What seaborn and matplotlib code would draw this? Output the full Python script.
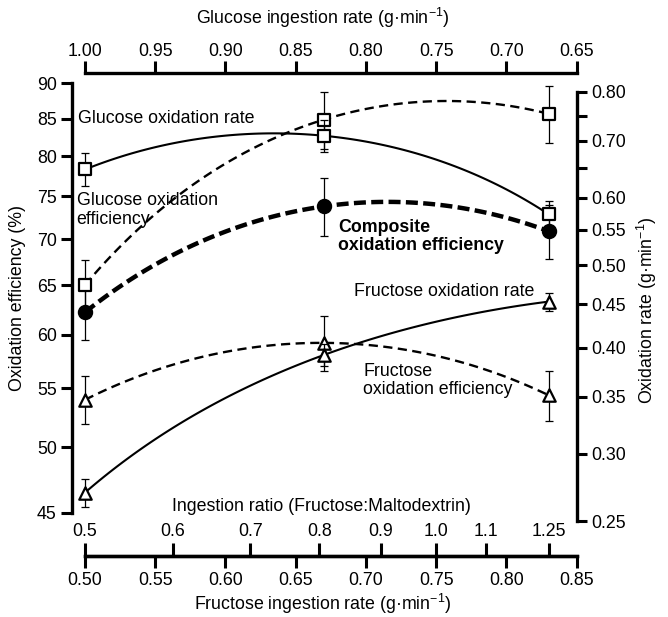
import numpy as np
import matplotlib
matplotlib.use("Agg")
import matplotlib.pyplot as plt
import seaborn as sns
from matplotlib.ticker import NullLocator

# ---------------- data ----------------
fructose_rate = [0.50, 0.67, 0.83]            # fructose ingestion rate, g/min
total_cho = 1.5                                # total carbohydrate ingestion, g/min

glucose_ox_eff = [65.0, 84.9, 85.7]            # %
glucose_ox_eff_sd = [2.7, 3.9, 3.9]
fructose_ox_eff = [54.0, 59.2, 54.4]           # %
fructose_ox_eff_sd = [2.1, 2.6, 2.2]
composite_ox_eff = [62.2, 73.8, 70.9]          # %
composite_ox_eff_sd = [2.7, 3.4, 3.1]

glucose_ox_rate = [0.648, 0.710, 0.574]        # g/min
glucose_ox_rate_sd = [0.029, 0.030, 0.021]
fructose_ox_rate = [0.270, 0.392, 0.453]       # g/min
fructose_ox_rate_sd = [0.010, 0.012, 0.011]

eff_ticks = [45, 50, 55, 60, 65, 70, 75, 80, 85, 90]
rate_ticks = [0.25, 0.30, 0.35, 0.40, 0.45, 0.50, 0.55, 0.60, 0.65, 0.70, 0.75, 0.80]
rate_tick_labels = ["0.25", "0.30", "0.35", "0.40", "0.45", "0.50", "0.55", "0.60", "", "0.70", "", "0.80"]
fructose_ticks = [0.50, 0.55, 0.60, 0.65, 0.70, 0.75, 0.80, 0.85]
glucose_ticks = [1.00, 0.95, 0.90, 0.85, 0.80, 0.75, 0.70, 0.65]
ratio_ticks = [0.5, 0.6, 0.7, 0.8, 0.9, 1.0, 1.1, 1.25]
ratio_tick_labels = ["0.5", "0.6", "0.7", "0.8", "0.9", "1.0", "1.1", "1.25"]

# ---------------- style ----------------
sns.set_style("ticks")
plt.rcParams["font.family"] = ["Liberation Sans", "DejaVu Sans"]
plt.rcParams["mathtext.default"] = "regular"
plt.rcParams["font.size"] = 12.8
plt.rcParams["xtick.labelsize"] = 12.8
plt.rcParams["ytick.labelsize"] = 12.8
for k in ["axes.edgecolor", "xtick.color", "ytick.color", "text.color", "axes.labelcolor"]:
    plt.rcParams[k] = "black"

W, H = 668, 617
PT = 72 / 100.0  # points per pixel


def box(x0, y0, x1, y1):
    return [x0 / W, 1 - y1 / H, (x1 - x0) / W, (y1 - y0) / H]


fig = plt.figure(figsize=(W / 100, H / 100), dpi=100)
fig.patch.set_facecolor("white")

AX_L, AX_R = 85, 576.7
EFF_TOP, EFF_BOT = 83.5, 512.7
RATE_TOP, RATE_BOT = 91.7, 521.0
ax = fig.add_axes(box(AX_L, EFF_TOP, AX_R, EFF_BOT))
ax_r = fig.add_axes(box(AX_L, RATE_TOP, AX_R, RATE_BOT), sharex=ax)
ax_r.set_facecolor("none")

SPINE_W = 2.4
TICK_W = 2.2

# ---------------- efficiency (left axis) ----------------
ax.set_yscale("log")


def draw_series(axis, y, yerr, marker, face, size, ls, lw):
    axis.errorbar(fructose_rate, y, yerr=yerr, fmt="none", ecolor="black",
                  elinewidth=0.9, capsize=2.6, capthick=0.9, zorder=1, clip_on=False)
    sns.regplot(x=np.array(fructose_rate), y=np.array(y), order=2, ci=None,
                scatter=False, truncate=True, ax=axis,
                line_kws=dict(color="black", lw=lw, linestyle=ls, zorder=2,
                              dash_capstyle="butt", clip_on=False))
    sns.scatterplot(x=fructose_rate, y=y, marker=marker, s=size, color=face,
                    edgecolor="black", linewidth=1.6, ax=axis, zorder=4, clip_on=False)


draw_series(ax, glucose_ox_eff, glucose_ox_eff_sd, "s", "white", 64, (0, (3.9, 2.3)), 1.7)
draw_series(ax, fructose_ox_eff, fructose_ox_eff_sd, "^", "white", 80, (0, (3.9, 2.3)), 1.7)
draw_series(ax, composite_ox_eff, composite_ox_eff_sd, "o", "black", 90, (0, (2.7, 1.2)), 3.2)

# ---------------- rates (right axis) ----------------
ax_r.set_yscale("log")
draw_series(ax_r, glucose_ox_rate, glucose_ox_rate_sd, "s", "white", 64, "-", 1.5)
draw_series(ax_r, fructose_ox_rate, fructose_ox_rate_sd, "^", "white", 80, "-", 1.5)

# ---------------- axes formatting ----------------
ax.set_xlim(0.50, 0.85)
ax.set_ylim(45, 90)
ax.set_yticks(eff_ticks, [str(t) for t in eff_ticks])
ax.yaxis.set_minor_locator(NullLocator())
ax.set_xticks(fructose_ticks, [f"{t:.2f}" for t in fructose_ticks])
for s in ["top", "right"]:
    ax.spines[s].set_visible(False)
ax.spines["left"].set_position(("outward", 13.3 * PT))
ax.spines["bottom"].set_position(("outward", (556 - EFF_BOT) * PT))
for s in ["left", "bottom"]:
    ax.spines[s].set_linewidth(SPINE_W)
ax.tick_params(axis="y", length=7.9, width=TICK_W, pad=2.9)
ax.tick_params(axis="x", length=8.9, width=TICK_W, pad=2.4)

ax.set_ylabel("Oxidation efficiency (%)")
ax.yaxis.set_label_coords((18 - AX_L) / (AX_R - AX_L), 0.5)
ax.yaxis.label.set_va("center")
ax.set_xlabel("Fructose ingestion rate (g·min$^{-1}$)")
ax.xaxis.set_label_coords((323 - AX_L) / (AX_R - AX_L), (EFF_BOT - 603.5) / (EFF_BOT - EFF_TOP))
ax.xaxis.label.set_va("center")

ax_r.set_ylim(0.25, 0.80)
ax_r.yaxis.tick_right()
ax_r.set_yticks(rate_ticks, rate_tick_labels)
ax_r.yaxis.set_minor_locator(NullLocator())
for s in ["top", "left", "bottom"]:
    ax_r.spines[s].set_visible(False)
ax_r.spines["right"].set_linewidth(SPINE_W)
ax_r.xaxis.set_visible(False)
ax_r.tick_params(axis="y", length=7.2, width=TICK_W, pad=3.6)
ax_r.yaxis.set_label_position("right")
ax_r.set_ylabel("Oxidation rate (g·min$^{-1}$)")
ax_r.yaxis.set_label_coords((647 - AX_L) / (AX_R - AX_L), (RATE_BOT - 310) / (RATE_BOT - RATE_TOP))
ax_r.yaxis.label.set_va("center")

# top axis: glucose ingestion rate
top = ax.secondary_xaxis(1 + (EFF_TOP - 73.3) / (EFF_BOT - EFF_TOP),
                         functions=(lambda f: total_cho - f, lambda g: total_cho - g))
top.set_xticks(glucose_ticks, [f"{t:.2f}" for t in glucose_ticks])
top.tick_params(length=8.9, width=TICK_W, pad=0.8)
top.spines["top"].set_linewidth(SPINE_W)
top.set_xlabel("Glucose ingestion rate (g·min$^{-1}$)")
top.xaxis.set_label_coords((323 - AX_L) / (AX_R - AX_L), (EFF_BOT - 18.3) / (EFF_BOT - EFF_TOP),
                           transform=ax.transAxes)
top.xaxis.label.set_va("center")

# inner bottom axis: ingestion ratio
ratio_ax = ax.secondary_xaxis(-(556 - EFF_BOT) / (EFF_BOT - EFF_TOP))
ratio_ax.set_alignment("top")
ratio_pos = [total_cho * r / (1 + r) for r in ratio_ticks[:-1]] + [fructose_rate[-1]]
ratio_ax.set_xticks(ratio_pos, ratio_tick_labels)
ratio_ax.tick_params(length=9.6, width=TICK_W, pad=1.7)
ratio_ax.spines["top"].set_linewidth(SPINE_W)
ratio_ax.set_xlabel("Ingestion ratio (Fructose:Maltodextrin)")
ratio_ax.xaxis.set_label_coords((321.7 - AX_L) / (AX_R - AX_L), (EFF_BOT - 506.7) / (EFF_BOT - EFF_TOP),
                                transform=ax.transAxes)
ratio_ax.xaxis.label.set_va("center")

# ---------------- annotations ----------------
def note(x, y, s, **kw):
    fig.text(x / W, 1 - y / H, s, ha="left", va="center", fontsize=12.8, **kw)


note(78.3, 118.3, "Glucose oxidation rate")
note(76.7, 210.3, "Glucose oxidation\nefficiency", linespacing=1.15)
note(338.3, 236.3, "Composite\noxidation efficiency", fontweight="bold", linespacing=1.05)
note(354.3, 291.0, "Fructose oxidation rate")
note(363.3, 380.5, "Fructose\noxidation efficiency", linespacing=1.05)

fig.savefig("out.png", dpi=100)
